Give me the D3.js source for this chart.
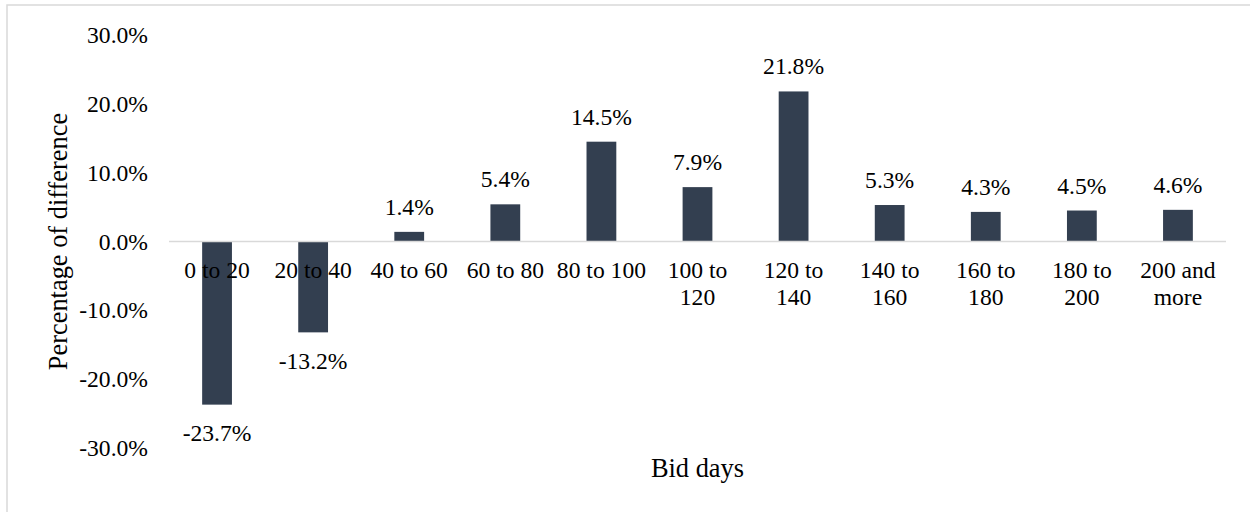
<!DOCTYPE html>
<html lang="en">
<head>
<meta charset="UTF-8">
<script src="https://d3js.org/d3.v7.min.js"></script>
<title>Percentage of difference by bid days</title>
<style>
  body { margin: 0; background: #fff; }
</style>
</head>
<body>
<svg id="chart" width="1250" height="512"></svg>
<script>
// chart values
const categories = ["0 to 20", "20 to 40", "40 to 60", "60 to 80", "80 to 100",
                    "100 to\n120", "120 to\n140", "140 to\n160", "160 to\n180", "180 to\n200", "200 and\nmore"];
const values = [-23.7, -13.2, 1.4, 5.4, 14.5, 7.9, 21.8, 5.3, 4.3, 4.5, 4.6];
const yTicks = [-30, -20, -10, 0, 10, 20, 30];

const xTitle = "Bid days";
const yTitle = "Percentage of difference";

const serif = "'Liberation Serif', 'DejaVu Serif', serif";
// plain hyphen minus, like the original
const pct = d => d.toFixed(1) + "%";

const svg = d3.select("#chart").style("font-family", serif);

// outer chart border (runs past the right/bottom edge)
svg.append("rect")
  .attr("x", 7).attr("y", 5)
  .attr("width", 1260).attr("height", 520)
  .attr("fill", "none")
  .attr("stroke", "#d9d9d9")
  .attr("stroke-width", 1.5);

const plotLeft = 169, plotRight = 1226, plotTop = 35, plotBottom = 448;

const xs = d3.scaleBand().domain(categories).range([plotLeft, plotRight]).padding(0);
const ys = d3.scaleLinear().domain([-30, 30]).range([plotBottom, plotTop]);
const barW = xs.bandwidth() * 0.31;

// y axis labels
const yAxis = svg.append("g")
  .attr("transform", "translate(" + 148 + ",0)")
  .call(d3.axisLeft(ys).tickValues(yTicks).tickSize(0).tickPadding(0).tickFormat(pct))
  .attr("font-family", serif);
yAxis.select(".domain").remove();
yAxis.selectAll("text")
  .style("font-size", "23.6px")
  .style("font-family", serif)
  .attr("fill", "#000")
  .attr("dy", "0.32em");

// bars
svg.append("g")
  .selectAll("rect")
  .data(values)
  .enter()
  .append("rect")
  .attr("x", (d, i) => xs(categories[i]) + xs.bandwidth() / 2 - barW / 2)
  .attr("width", barW)
  .attr("y", d => ys(Math.max(0, d)))
  .attr("height", d => Math.abs(ys(d) - ys(0)))
  .attr("fill", "#333f50");

// zero line
svg.append("line")
  .attr("x1", plotLeft).attr("x2", plotRight)
  .attr("y1", ys(0)).attr("y2", ys(0))
  .attr("stroke", "#d9d9d9")
  .attr("stroke-width", 1.5);

// category labels
const xAxis = svg.append("g")
  .attr("transform", "translate(0," + ys(0) + ")")
  .call(d3.axisBottom(xs).tickSize(0).tickPadding(0))
  .attr("font-family", serif);
xAxis.select(".domain").remove();
xAxis.selectAll("text")
  .style("font-size", "23.6px")
  .style("font-family", serif)
  .attr("fill", "#000")
  .attr("y", 0).attr("dy", null)
  .each(function(d) {
    const t = d3.select(this).text("");
    d.split("\n").forEach((line, k) => {
      t.append("tspan").attr("x", 0).attr("y", 36.5 + k * 27).text(line);
    });
  });

// data labels
svg.append("g")
  .selectAll("text")
  .data(values)
  .enter()
  .append("text")
  .attr("x", (d, i) => xs(categories[i]) + xs.bandwidth() / 2)
  .attr("y", d => d >= 0 ? ys(d) - 17 : ys(d) + 36.5)
  .attr("text-anchor", "middle")
  .attr("fill", "#000")
  .style("font-family", serif)
  .style("font-size", "23.6px")
  .text(pct);

// axis titles
svg.append("text")
  .attr("x", (plotLeft + plotRight) / 2)
  .attr("y", 477)
  .attr("text-anchor", "middle")
  .attr("fill", "#000")
  .style("font-family", serif)
  .style("font-size", "26.4px")
  .text(xTitle);

svg.append("text")
  .attr("transform", "translate(" + 67 + "," + ys(0) + ") rotate(-90)")
  .attr("text-anchor", "middle")
  .attr("fill", "#000")
  .style("font-family", serif)
  .style("font-size", "26.4px")
  .text(yTitle);
</script>
</body>
</html>
